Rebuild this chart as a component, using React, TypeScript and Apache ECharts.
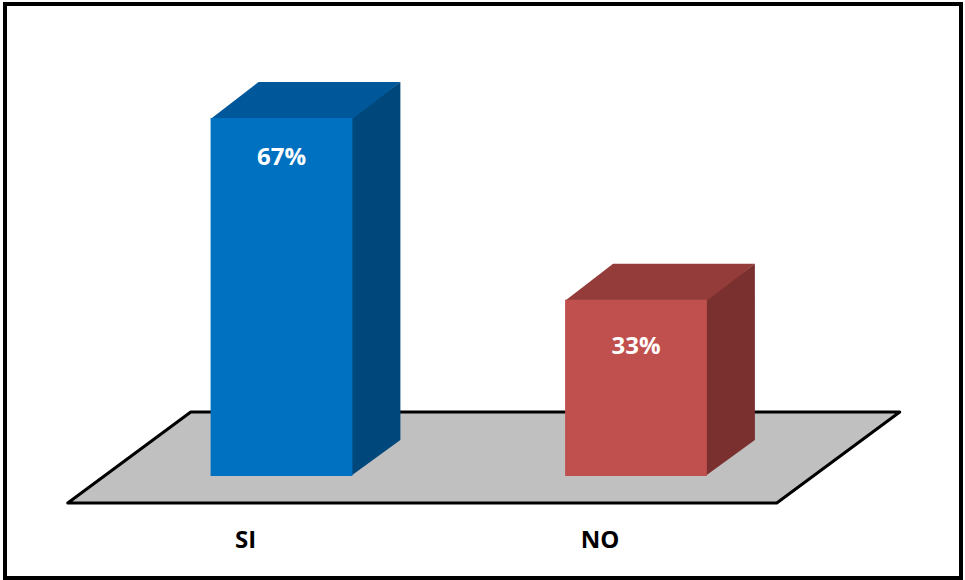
import React, { useEffect, useRef } from "react";
import * as echarts from "echarts";

// ---- data ----
const categories = ["SI", "NO"];
const values = [67, 33];
const valueLabels = ["67%", "33%"];

// ---- styles ----
const FRONT_COLORS = ["#0070C0", "#C0504D"];
const TOP_COLORS = ["#00589A", "#943C3A"];
const SIDE_COLORS = ["#00487C", "#7B3030"];
const LABEL_DY = [37, 45];

const DEPTH_X = 48;
const DEPTH_Y = 36;
const FLOOR_FRONT = 27;
const FLOOR_BACK = 64;
const FLOOR_SLOPE = 123 / 91;
const FONT = "'Open Sans', 'DejaVu Sans', sans-serif";

export default function App() {
  const ref = useRef<HTMLDivElement>(null);
  useEffect(() => {
    const chart = echarts.init(ref.current!, null, { renderer: "svg" });
    chart.setOption({
      animation: false,
      backgroundColor: "#ffffff",
      grid: { left: 104.25, right: 965 - 813.25, top: 48.6, bottom: 104 },
      xAxis: {
        type: "category",
        data: categories,
        axisLine: { show: false },
        axisTick: { show: false },
        splitLine: { show: false },
        axisLabel: {
          margin: 50,
          color: "#000",
          fontFamily: FONT,
          fontWeight: "bold",
          fontSize: 24,
          padding: [0, 72, 0, 0],
        },
      },
      yAxis: { type: "value", min: 0, max: 80, show: false },
      graphic: [
        {
          type: "rect",
          shape: { x: 5, y: 4, width: 956, height: 574 },
          style: { fill: "none", stroke: "#000", lineWidth: 4 },
          silent: true,
        },
      ],
      series: [
        {
          type: "custom",
          z: 1,
          silent: true,
          data: [[0, 0]],
          renderItem: (params: any, api: any) => {
            const cs = params.coordSys;
            const base = api.coord([0, 0])[1];
            const x0 = cs.x;
            const x1 = cs.x + cs.width;
            const fy = base + FLOOR_FRONT;
            const by = base - FLOOR_BACK;
            const fdx = -FLOOR_FRONT * FLOOR_SLOPE;
            const bdx = FLOOR_BACK * FLOOR_SLOPE;
            return {
              type: "polygon",
              shape: {
                points: [
                  [x0 + fdx, fy],
                  [x0 + bdx, by],
                  [x1 + bdx, by],
                  [x1 + fdx, fy],
                ],
              },
              style: { fill: "#C0C0C0", stroke: "#000", lineWidth: 3, lineJoin: "round" },
            };
          },
        },
        {
          type: "custom",
          z: 2,
          data: values.map((v, i) => [i, v]),
          renderItem: (params: any, api: any) => {
            const i = params.dataIndex;
            const top = api.coord([api.value(0), api.value(1)]);
            const base = api.coord([api.value(0), 0])[1];
            const bw = api.size([1, 0])[0] * 0.4;
            const xa = top[0] - bw / 2;
            const xb = top[0] + bw / 2;
            const yt = top[1];
            return {
              type: "group",
              children: [
                {
                  type: "polygon",
                  shape: {
                    points: [
                      [xb - 1.5, yt],
                      [xb + DEPTH_X, yt - DEPTH_Y],
                      [xb + DEPTH_X, base - DEPTH_Y],
                      [xb - 1.5, base],
                    ],
                  },
                  style: { fill: SIDE_COLORS[i] },
                },
                {
                  type: "polygon",
                  shape: {
                    points: [
                      [xa, yt + 1],
                      [xa + DEPTH_X, yt - DEPTH_Y],
                      [xb + DEPTH_X, yt - DEPTH_Y],
                      [xb, yt + 1],
                    ],
                  },
                  style: { fill: TOP_COLORS[i] },
                },
                {
                  type: "rect",
                  shape: { x: xa, y: yt, width: bw, height: base - yt },
                  style: { fill: FRONT_COLORS[i] },
                },
                {
                  type: "text",
                  x: top[0],
                  y: yt + LABEL_DY[i],
                  style: {
                    text: valueLabels[i],
                    fill: "#fff",
                    fontFamily: FONT,
                    fontWeight: "bold",
                    fontSize: 24,
                    align: "center",
                    verticalAlign: "middle",
                  },
                },
              ],
            };
          },
        },
      ],
    });
    return () => chart.dispose();
  }, []);
  return (
    <div
      ref={ref}
      style={{ position: "fixed", left: 0, top: 0, width: 965, height: 580 }}
    />
  );
}
